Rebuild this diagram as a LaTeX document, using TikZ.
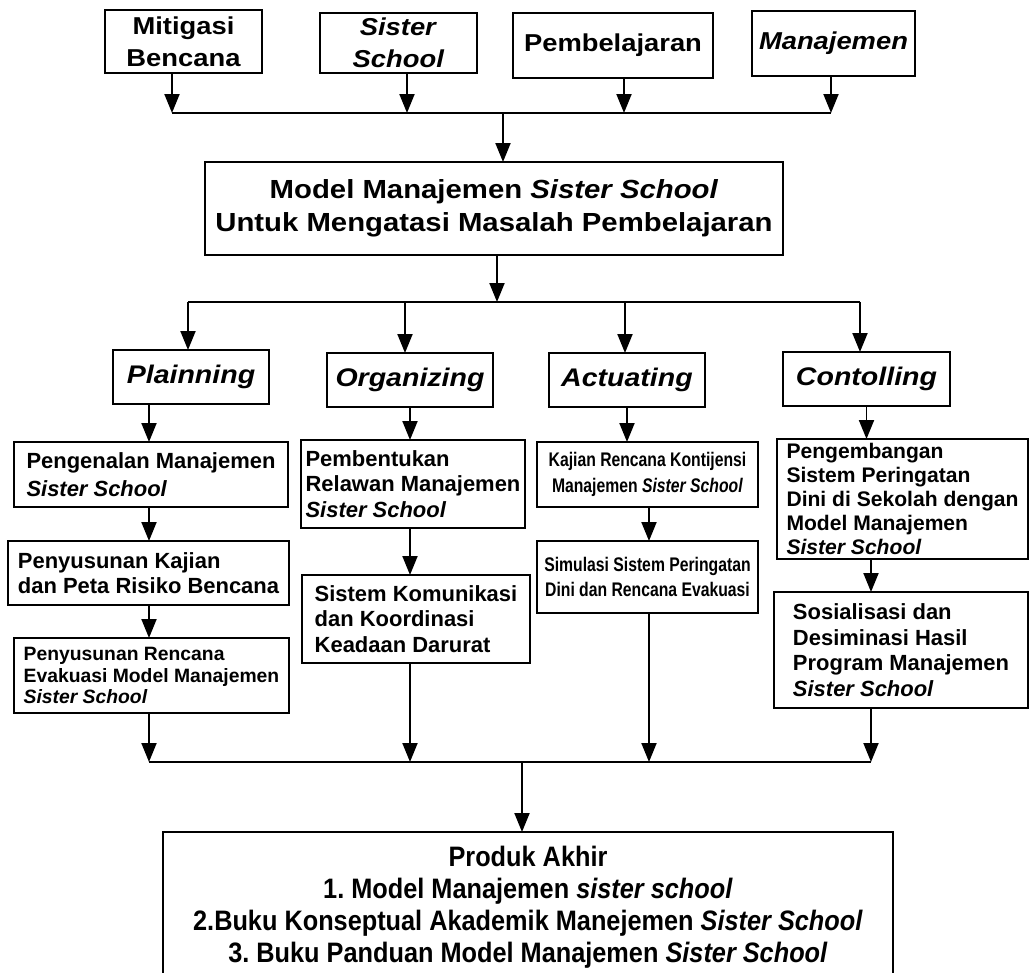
\documentclass[tikz,border=0pt]{standalone}
\usepackage{fontspec}
\setmainfont{Liberation Sans}
\newfontfamily\lebarfont{Liberation Sans}[FakeStretch=1.12]
\newfontfamily\sempitfont{Liberation Sans}[FakeStretch=0.8]
\newfontfamily\tengahfont{Liberation Sans}[FakeStretch=0.9]
\usetikzlibrary{arrows.meta}

\begin{document}
\frenchspacing
\begin{tikzpicture}[x=0.02cm, y=-0.02cm]
  % Gaya
  \tikzstyle{kotak} = [rectangle, draw, line width=1.3pt, inner sep=0pt, outer sep=0pt]
  \tikzstyle{atas} = [kotak, align=center, font=\lebarfont\bfseries\fontsize{13.9}{18.2}\selectfont]
  \tikzstyle{utama} = [kotak, align=center, font=\lebarfont\bfseries\fontsize{14.9}{18.8}\selectfont]
  \tikzstyle{tahap} = [kotak, minimum height=1.08cm, font=\lebarfont\bfseries\itshape\fontsize{14.5}{17}\selectfont]
  \tikzstyle{isi} = [kotak, align=left, font=\bfseries\fontsize{12.5}{14.5}\selectfont]
  \tikzstyle{isisempit} = [kotak, align=center, font=\sempitfont\bfseries\fontsize{11.2}{14.5}\selectfont]
  \tikzstyle{akhir} = [kotak, align=center, font=\tengahfont\bfseries\fontsize{16}{18.2}\selectfont]
  \tikzstyle{panah} = [-{Triangle[length=0.38cm, width=0.3cm]}, line width=1.1pt]
  \tikzstyle{garis} = [line width=1.1pt]

  \useasboundingbox (0,0) rectangle (1029,973);

  % Masukan
  \node [atas, minimum width=3.14cm, minimum height=1.26cm] (mitigasi) at (183.5,41.5) {Mitigasi\\Bencana};
  \node [atas, minimum width=3.14cm, minimum height=1.2cm] (sister) at (398.5,43) {\textit{Sister}\\\textit{School}};
  \node [atas, minimum width=4cm, minimum height=1.3cm] (pembelajaran) at (613,45.5) {Pembelajaran};
  \node [atas, minimum width=3.26cm, minimum height=1.3cm] (manajemen) at (833.5,43.5) {\textit{Manajemen}};

  \node [utama, minimum width=11.56cm, minimum height=1.86cm] (model) at (494,208.5)
    {Model Manajemen \textit{Sister School}\\Untuk Mengatasi Masalah Pembelajaran};

  % Tahap
  \node [tahap, minimum width=3.12cm] (plan) at (191,377) {Plainning};
  \node [tahap, minimum width=3.32cm] (org) at (410,380) {Organizing};
  \node [tahap, minimum width=3.12cm] (act) at (627,380) {Actuating};
  \node [tahap, minimum width=3.34cm] (ctrl) at (866.5,379) {Contolling};

  % Kegiatan
  \node [isi, minimum width=5.48cm, minimum height=1.3cm, font=\bfseries\fontsize{12.5}{16}\selectfont] (pengenalan) at (151,474.5)
    {Pengenalan Manajemen\\\textit{Sister School}};
  \node [isi, minimum width=5.62cm, minimum height=1.28cm] (risiko) at (148.5,573)
    {Penyusunan Kajian\\dan Peta Risiko Bencana};
  \node [isi, minimum width=5.5cm, minimum height=1.5cm, font=\bfseries\fontsize{11}{12.4}\selectfont] (evakuasi) at (151.5,675.5)
    {Penyusunan Rencana\\Evakuasi Model Manajemen\\\textit{Sister School}};

  \node [isi, minimum width=4.48cm, minimum height=1.76cm] (relawan) at (413,484)
    {Pembentukan\\Relawan Manajemen\\\textit{Sister School}};
  \node [isi, minimum width=4.56cm, minimum height=1.76cm] (komunikasi) at (416,619)
    {Sistem Komunikasi\\dan Koordinasi\\Keadaan Darurat};

  \node [isisempit, minimum width=4.42cm, minimum height=1.3cm] (kontijensi) at (647.5,474.5)
    {Kajian Rencana Kontijensi\\Manajemen \textit{Sister School}};
  \node [isisempit, minimum width=4.42cm, minimum height=1.44cm] (simulasi) at (647.5,577)
    {Simulasi Sistem Peringatan\\Dini dan Rencana Evakuasi};

  \node [isi, minimum width=5.02cm, minimum height=2.4cm, font=\bfseries\fontsize{12}{13.7}\selectfont] (pengembangan) at (902.5,499)
    {Pengembangan\\Sistem Peringatan\\Dini di Sekolah dengan\\Model Manajemen\\\textit{Sister School}};
  \node [isi, minimum width=5.08cm, minimum height=2.32cm] (sosialisasi) at (901,650)
    {Sosialisasi dan\\Desiminasi Hasil\\Program Manajemen\\\textit{Sister School}};

  \node [akhir, minimum width=14.6cm, minimum height=3cm] (produk) at (528,907)
    {Produk Akhir\\1. Model Manajemen \textit{sister school}\\2.Buku Konseptual Akademik Manejemen \textit{Sister School}\\3. Buku Panduan Model Manajemen \textit{Sister School}};

  % Titik bantu
  \coordinate (t0) at (503,113);
  \coordinate (t1) at (172,113);
  \coordinate (t2) at (407,113);
  \coordinate (t3) at (624,113);
  \coordinate (t4) at (831,113);
  \coordinate (u0) at (497,302);
  \coordinate (u1) at (188,302);
  \coordinate (u2) at (405,302);
  \coordinate (u3) at (625,302);
  \coordinate (u4) at (860,302);
  \coordinate (k1) at (149,0);
  \coordinate (k2) at (410,0);
  \coordinate (k3) at (649,0);
  \coordinate (k4) at (871,0);
  \coordinate (w0) at (522,762);

  % Panah atas
  \draw[panah] (mitigasi.south -| t1) -- (t1);
  \draw[panah] (sister.south -| t2) -- (t2);
  \draw[panah] (pembelajaran.south -| t3) -- (t3);
  \draw[panah] (manajemen.south -| t4) -- (t4);
  \draw[garis] (t1) -- (t4);
  \draw[panah] (t0) -- (model.north -| t0);

  \draw[panah] (model.south -| u0) -- (u0);
  \draw[garis] (u1) -- (u4);
  \draw[panah] (u1) -- (plan.north -| u1);
  \draw[panah] (u2) -- (org.north -| u2);
  \draw[panah] (u3) -- (act.north -| u3);
  \draw[panah] (u4) -- (ctrl.north -| u4);

  % Panah kolom
  \draw[panah] (plan.south -| k1) -- (pengenalan.north -| k1);
  \draw[panah] (pengenalan.south -| k1) -- (risiko.north -| k1);
  \draw[panah] (risiko.south -| k1) -- (evakuasi.north -| k1);
  \draw[panah] (org.south -| k2) -- (relawan.north -| k2);
  \draw[panah] (relawan.south -| k2) -- (komunikasi.north -| k2);
  \draw[panah] (act.south) -- (kontijensi.north -| act.south);
  \draw[panah] (kontijensi.south -| k3) -- (simulasi.north -| k3);
  \draw[panah] (ctrl.south) -- (pengembangan.north -| ctrl.south);
  \draw[panah] (pengembangan.south -| k4) -- (sosialisasi.north -| k4);

  % Panah bawah
  \draw[panah] (evakuasi.south -| k1) -- (w0 -| k1);
  \draw[panah] (komunikasi.south -| k2) -- (w0 -| k2);
  \draw[panah] (simulasi.south -| k3) -- (w0 -| k3);
  \draw[panah] (sosialisasi.south -| k4) -- (w0 -| k4);
  \draw[garis] (w0 -| k1) -- (w0 -| k4);
  \draw[panah] (w0) -- (produk.north -| w0);
\end{tikzpicture}
\end{document}
